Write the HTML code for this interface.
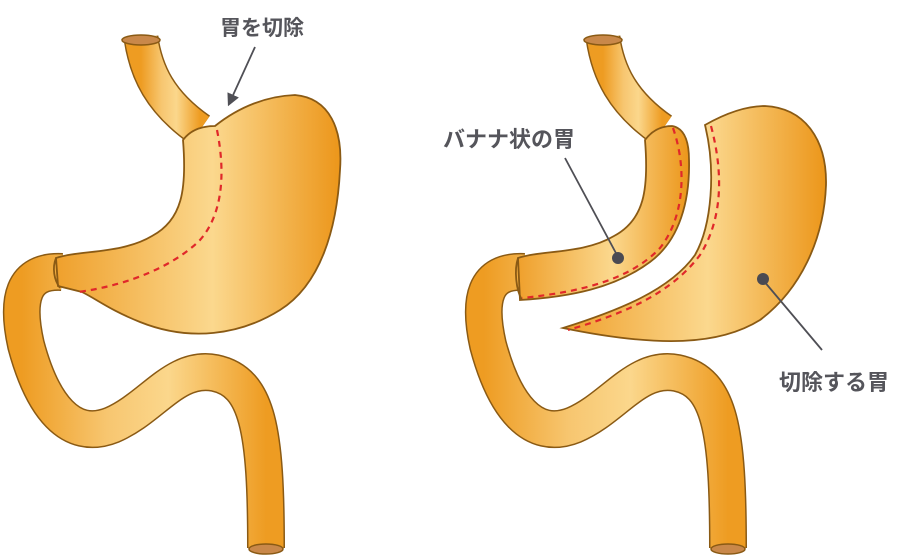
<!DOCTYPE html>
<html><head><meta charset="utf-8">
<style>
html,body{margin:0;padding:0;background:#fff;}
svg{display:block;}
text{font-family:"Liberation Sans","Noto Sans CJK JP",sans-serif;font-weight:bold;fill:#55555b;}
</style></head>
<body>
<svg width="910" height="560" viewBox="0 0 910 560" xmlns="http://www.w3.org/2000/svg">
<defs>
<linearGradient id="g" x1="0" y1="0" x2="1" y2="0">
<stop offset="0" stop-color="#efa02c"/>
<stop offset="0.55" stop-color="#fbd88e"/>
<stop offset="1" stop-color="#ec961a"/>
</linearGradient>
<linearGradient id="gi" x1="0" y1="0" x2="1" y2="0">
<stop offset="0" stop-color="#ee9c22"/>
<stop offset="0.35" stop-color="#f7c670"/>
<stop offset="0.6" stop-color="#fbd78c"/>
<stop offset="1" stop-color="#ee9c22"/>
</linearGradient>
<marker id="ah" viewBox="0 0 10 10" refX="8" refY="5" markerWidth="7" markerHeight="7" orient="auto"><path d="M0,0 L10,5 L0,10 Z" fill="#4f4f55"/></marker>
<g id="intest">
<path d="M62,272 C22,270 16,300 26,345 C42,405 70,442 112,425 C152,408 175,365 215,373 C258,382 266,430 266,548" fill="none" stroke="#8a5a14" stroke-width="38" stroke-linecap="butt"/>
<path d="M62,272 C22,270 16,300 26,345 C42,405 70,442 112,425 C152,408 175,365 215,373 C258,382 266,430 266,548" fill="none" stroke="url(#gi)" stroke-width="35" stroke-linecap="butt"/>
<ellipse cx="266" cy="549" rx="17" ry="5" fill="#c9884a" stroke="#8a5a14" stroke-width="1.5"/>
</g>
<g id="eso">
<path d="M141,38 C146,72 160,102 200,130" fill="none" stroke="#8a5a14" stroke-width="35"/>
<path d="M141,38 C146,72 160,102 200,130" fill="none" stroke="url(#gi)" stroke-width="32"/>
<ellipse cx="141" cy="40" rx="19" ry="5" fill="#c9884a" stroke="#8a5a14" stroke-width="1.5"/>
</g>
</defs>

<!-- LEFT -->
<use href="#intest"/>
<use href="#eso"/>
<path d="M183,140 C192,128 205,126 215,126 C240,106 268,96 295,95 C330,98 343,130 340,170 C337,230 320,285 280,310 C240,335 190,342 140,322 C110,310 98,300 82,292 L58,286 L56,258 C80,250 122,254 152,236 C182,220 187,190 183,140 Z" fill="url(#g)" stroke="#8a5a14" stroke-width="1.8"/>
<path d="M56,258 C52,268 54,280 60,288" fill="none" stroke="#8a5a14" stroke-width="1.8"/>
<path d="M217,130 C226,175 222,215 200,240 C175,265 130,285 78,292" fill="none" stroke="#e0282a" stroke-width="2.2" stroke-dasharray="6,5"/>
<text x="220" y="35" font-size="21">胃を切除</text>
<line x1="255" y1="47" x2="229" y2="104" stroke="#4f4f55" stroke-width="1.8" marker-end="url(#ah)"/>

<!-- RIGHT -->
<g transform="translate(462,0)"><use href="#intest"/><use href="#eso"/></g>
<path d="M645,140 C654,128 665,126 672,126 C684,128 689,140 689,160 C690,200 680,240 650,262 C615,288 570,297 520,300 L518,258 C542,250 584,254 614,236 C644,220 649,190 645,140 Z" fill="url(#g)" stroke="#8a5a14" stroke-width="1.8"/>
<path d="M518,258 C514,270 516,290 522,300" fill="none" stroke="#8a5a14" stroke-width="1.8"/>
<path d="M705,125 C728,112 748,106 765,106 C805,108 827,140 826,185 C824,240 800,290 760,320 C720,345 660,348 563,328 C620,310 670,290 695,255 C712,225 716,170 705,125 Z" fill="url(#g)" stroke="#8a5a14" stroke-width="1.8"/>
<path d="M673,128 C686,165 686,215 660,248 C630,280 580,292 522,298" fill="none" stroke="#e0282a" stroke-width="2.2" stroke-dasharray="6,5"/>
<path d="M711,126 C724,175 722,220 700,255 C670,295 620,315 568,330" fill="none" stroke="#e0282a" stroke-width="2.2" stroke-dasharray="6,5"/>
<text x="443" y="147" font-size="22">バナナ状の胃</text>
<line x1="565" y1="158" x2="617" y2="255" stroke="#4f4f55" stroke-width="1.8"/>
<circle cx="618" cy="258" r="6" fill="#4a4a52"/>
<text x="779" y="390" font-size="22">切除する胃</text>
<line x1="763" y1="280" x2="822" y2="350" stroke="#4f4f55" stroke-width="1.8"/>
<circle cx="763" cy="279" r="6" fill="#4a4a52"/>
</svg>
</body></html>
